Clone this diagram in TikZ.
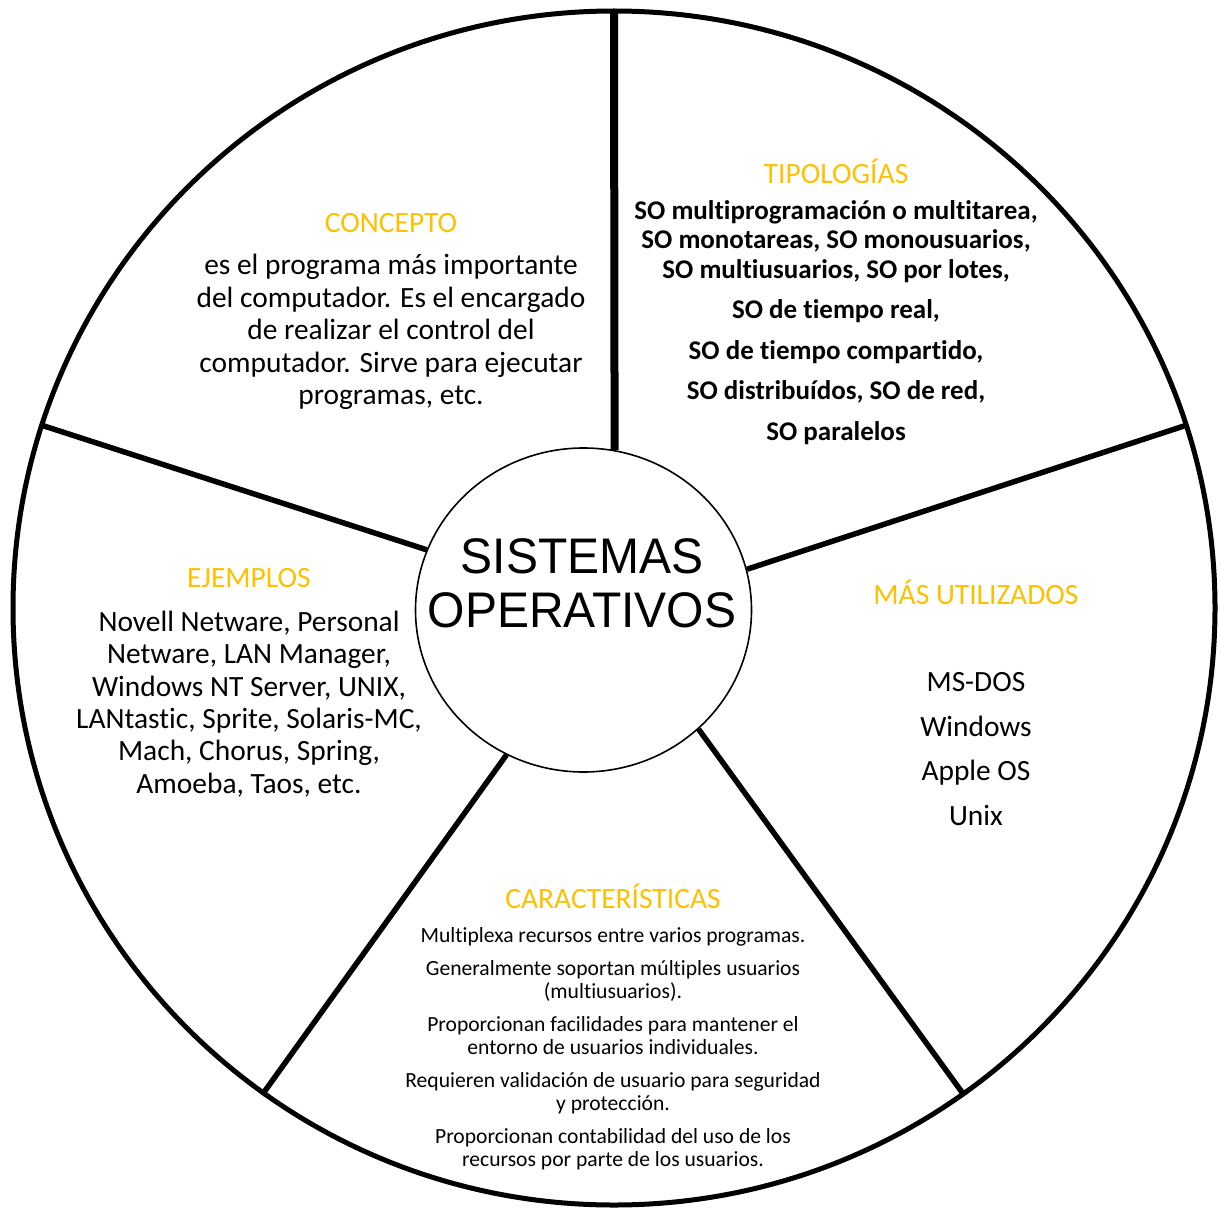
\documentclass[tikz,border=0pt]{standalone}
\usepackage{fontspec}
\setmainfont{Carlito}[Ligatures=NoCommon]
\newfontfamily\arialfont{Liberation Sans}
\usetikzlibrary{shapes.geometric}
\definecolor{headorange}{HTML}{FFC000}
\begin{document}
\begin{tikzpicture}[x=1pt,y=-1pt,
  head/.style={text=headorange,font=\fontsize{29.5}{34}\selectfont,inner sep=0pt},
  body/.style={align=center,font=\fontsize{29.4}{32.4}\selectfont,inner sep=0pt},
  spoke/.style={line width=5.5pt},
]
\useasboundingbox (0,0) rectangle (1220,1209);

% outer wheel
\node[draw,ellipse,line width=5pt,minimum width=1202pt,minimum height=1194pt,inner sep=0pt] (rim) at (614,608) {};

% hub
\node[draw,ellipse,fill=white,line width=1.6pt,minimum width=336pt,minimum height=324pt,inner sep=0pt] (core) at (583.5,610) {};

% spoke ends on the rim
\coordinate (oTop) at (614,11);
\coordinate (oUL) at (41,425);
\coordinate (oUR) at (1187,425);
\coordinate (oLR) at (964,1095);
\coordinate (oLL) at (262,1095);

\draw[line width=8pt] (oTop) -- (core.79.2);
\draw[spoke] (oUL) -- (core.159);
\draw[spoke] (oUR) -- (core.14.6);
\draw[spoke] (oLR) -- (core.314.1);
\draw[spoke] (oLL) -- (core.242.5);

% hub title
\node[align=center,inner sep=0pt,font=\arialfont\fontsize{50}{54}\selectfont] (title) at (582,583.5)
  {\scalebox{0.96}[1]{SISTEMAS}\\\scalebox{0.96}[1]{OPERATIVOS}};

% CONCEPTO
\node[head] (hConcepto) at (391,223) {CONCEPTO};
\node[body] (bConcepto) at (391,332) {es el programa más importante\\del computador. Es el encargado\\de realizar el control del\\computador. Sirve para ejecutar\\programas, etc.};

% TIPOLOGÍAS
\node[head] (hTipos) at (836,171) {TIPOLOGÍAS};
\node[align=center,inner sep=0pt,font=\bfseries\fontsize{27}{29.5}\selectfont] (bTipos) at (836,322.5)
  {SO multiprogramación o multitarea,\\SO monotareas, SO monousuarios,\\SO multiusuarios, SO por lotes,\\[11pt]SO de tiempo real,\\[11pt]SO de tiempo compartido,\\[11pt]SO distribuídos, SO de red,\\[11pt]SO paralelos};

% MÁS UTILIZADOS
\node[head] (hUsados) at (976,592) {MÁS UTILIZADOS};
\node[align=center,inner sep=0pt,font=\fontsize{29.4}{44.5}\selectfont] (bUsados) at (976,749) {MS-DOS\\Windows\\Apple OS\\Unix};

% EJEMPLOS
\node[head] (hEjemplos) at (249,578) {EJEMPLOS};
\node[body] (bEjemplos) at (249,704) {Novell Netware, Personal\\Netware, LAN Manager,\\Windows NT Server, UNIX,\\LANtastic, Sprite, Solaris-MC,\\Mach, Chorus, Spring,\\Amoeba, Taos, etc.};

% CARACTERÍSTICAS
\node[head] (hCaract) at (613,896) {CARACTERÍSTICAS};
\node[align=center,inner sep=0pt,font=\fontsize{21.6}{23}\selectfont] (bCaract) at (613,1048.5)
  {Multiplexa recursos entre varios programas.\\[10pt]Generalmente soportan múltiples usuarios\\(multiusuarios).\\[10pt]Proporcionan facilidades para mantener el\\entorno de usuarios individuales.\\[10pt]Requieren validación de usuario para seguridad\\y protección.\\[10pt]Proporcionan contabilidad del uso de los\\recursos por parte de los usuarios.};
\end{tikzpicture}
\end{document}
